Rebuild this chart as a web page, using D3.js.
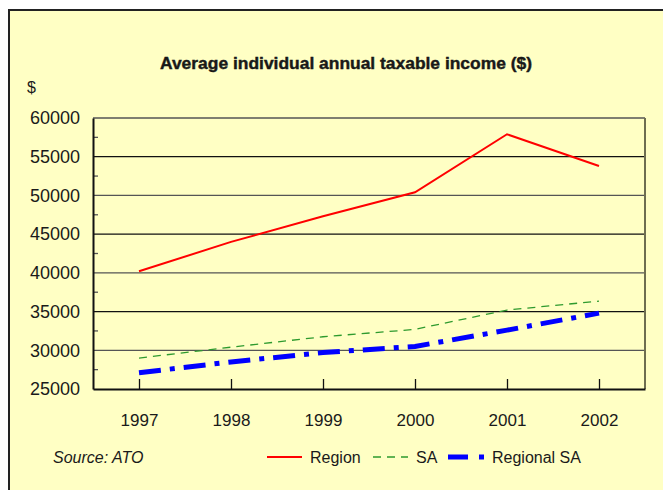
<!DOCTYPE html>
<html>
<head>
<meta charset="utf-8">
<script src="https://cdn.jsdelivr.net/npm/d3@7"></script>
<style>
    body { margin: 0; background: #fff; }
    svg { display: block; }
    text { font-family: "Liberation Sans", Arial, sans-serif; fill: #1a1a1a; }
</style>
</head>
<body>
<svg id="chart" width="663" height="490"></svg>
<script>
'use strict';

let years = ["1997", "1998", "1999", "2000", "2001", "2002"];
let region = [40200, 44000, 47300, 50400, 57900, 53800];
let sa = [29000, 30400, 31750, 32700, 35200, 36350];
let regionalSa = [27100, 28500, 29700, 30500, 32600, 34800];
let yTicks = [25000, 30000, 35000, 40000, 45000, 50000, 55000, 60000];

let series = [
    { name: "Region", values: region, color: "#ff0000", width: 2, dash: null },
    { name: "SA", values: sa, color: "#2e9a2e", width: 1.3, dash: "8,6" },
    { name: "Regional SA", values: regionalSa, color: "#0000ff", width: 5, dash: "22,9,5,9" }
];

let svg = d3.select("#chart");

// outer frame
svg.append("rect")
    .attr("x", 9).attr("y", 10)
    .attr("width", 680).attr("height", 500)
    .attr("fill", "#ffffc4")
    .attr("stroke", "#222")
    .attr("stroke-width", 2);

let margin = { left: 93, top: 118, right: 645, bottom: 389 };

let x = d3.scalePoint()
    .domain(years)
    .range([margin.left, margin.right])
    .padding(0.5);

let y = d3.scaleLinear()
    .domain([25000, 60000])
    .range([margin.bottom, margin.top]);

// gridlines
svg.append("g")
    .selectAll("line")
    .data(yTicks.slice(1))
    .enter().append("line")
    .attr("x1", margin.left).attr("x2", margin.right)
    .attr("y1", d => y(d)).attr("y2", d => y(d))
    .attr("stroke", (d, i) => i % 2 ? "#111" : "#555")
    .attr("stroke-width", 1.3);

// minor ticks on left axis
let minor = d3.range(27500, 60000, 5000);
svg.append("g")
    .selectAll("line")
    .data(minor)
    .enter().append("line")
    .attr("x1", margin.left).attr("x2", margin.left + 5)
    .attr("y1", d => y(d)).attr("y2", d => y(d))
    .attr("stroke", "#555")
    .attr("stroke-width", 1.3);

// right border
svg.append("line")
    .attr("x1", margin.right).attr("x2", margin.right)
    .attr("y1", margin.top).attr("y2", margin.bottom)
    .attr("stroke", "#6e6e50").attr("stroke-width", 2);

// y axis
let yAxis = svg.append("g")
    .attr("transform", "translate(" + margin.left + ",0)")
    .call(d3.axisLeft(y).tickValues(yTicks).tickSize(0).tickPadding(13).tickFormat(d3.format("d")));
yAxis.select(".domain").attr("stroke", "#111").attr("stroke-width", 2);
yAxis.selectAll("text")
    .style("font-size", "18px")
    .attr("fill", "#1a1a1a");

// x axis
let xAxis = svg.append("g")
    .attr("transform", "translate(0," + margin.bottom + ")")
    .call(d3.axisTop(x).tickSize(10).tickSizeOuter(0));
xAxis.select(".domain").attr("stroke", "#111").attr("stroke-width", 2);
xAxis.selectAll(".tick line").attr("stroke", "#111").attr("stroke-width", 1.3);
xAxis.selectAll("text")
    .attr("y", 37)
    .style("font-size", "17px")
    .attr("fill", "#1a1a1a");

// lines
let line = d3.line()
    .x((d, i) => x(years[i]))
    .y(d => y(d));

series.slice().reverse().forEach(function(s) {
    svg.append("path")
        .datum(s.values)
        .attr("d", line)
        .attr("fill", "none")
        .attr("stroke", s.color)
        .attr("stroke-width", s.width)
        .attr("stroke-dasharray", s.dash);
});

// title
svg.append("text")
    .attr("x", 346).attr("y", 69)
    .attr("text-anchor", "middle")
    .attr("textLength", 372)
    .attr("lengthAdjust", "spacingAndGlyphs")
    .style("font-size", "17px")
    .style("font-weight", "bold")
    .style("stroke", "#111")
    .style("stroke-width", 0.4)
    .text("Average individual annual taxable income ($)");

svg.append("text")
    .attr("x", 27).attr("y", 93)
    .style("font-size", "16px")
    .text("$");

// source
svg.append("text")
    .attr("x", 53).attr("y", 463)
    .style("font-size", "16px")
    .style("font-style", "italic")
    .text("Source: ATO");

// legend
let legendX = [267, 373, 448];
let legend = svg.append("g")
    .selectAll("g")
    .data(series)
    .enter().append("g")
    .attr("transform", (d, i) => "translate(" + legendX[i] + ",457)");

legend.append("line")
    .attr("x1", 0).attr("x2", d => d.name === "Regional SA" ? 36 : 35)
    .attr("stroke", d => d.color)
    .attr("stroke-width", d => d.name === "Regional SA" ? 5 : d.width)
    .attr("stroke-dasharray", d => d.name === "Regional SA" ? "20,11,5,20" : d.dash);

legend.append("text")
    .attr("x", d => d.name === "Regional SA" ? 44 : 43)
    .attr("y", 6)
    .style("font-size", "16px")
    .text(d => d.name);
</script>
</body>
</html>
